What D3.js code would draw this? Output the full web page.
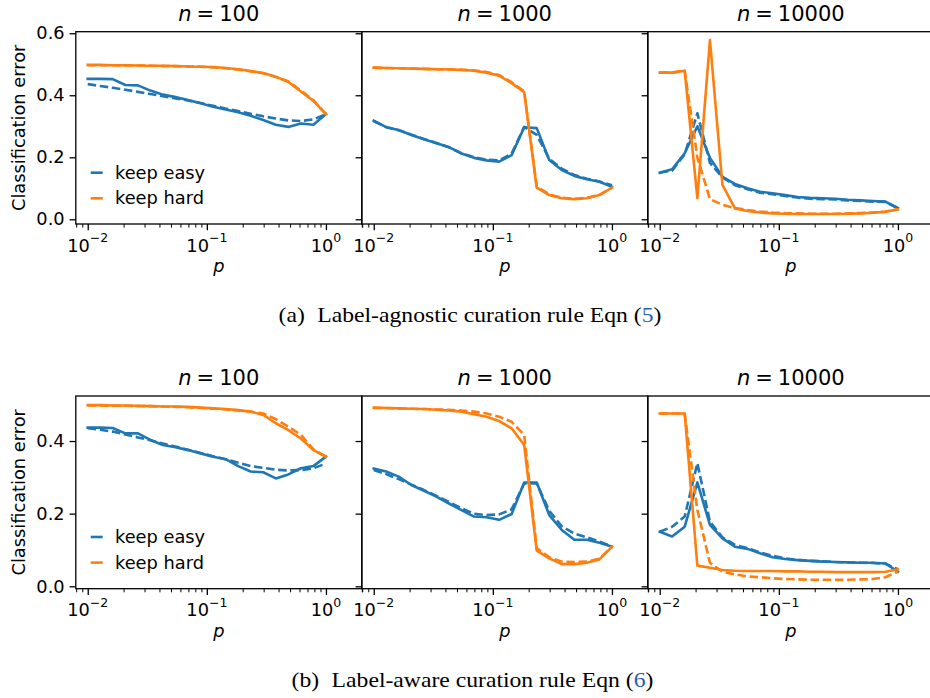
<!DOCTYPE html>
<html><head><meta charset="utf-8">
<script src="https://cdn.jsdelivr.net/npm/d3@7"></script>
<style>
body{margin:0;background:#fff}
svg{display:block}
text{font-family:"DejaVu Sans",sans-serif;fill:#000}
</style></head><body>
<svg id="chart" width="930" height="698"></svg>
<script>
// ---------- data ----------
const pValues = [0.01,0.0127,0.0162,0.0207,0.0264,0.0336,0.0428,0.0546,0.0695,0.0886,0.1129,0.1438,0.1833,0.2336,0.2976,0.3793,0.4833,0.6158,0.7848,1.0];
const nValues = [100, 1000, 10000];
const seriesNames = ["keep easy", "keep hard"];
const yTicksA = [0, 0.2, 0.4, 0.6];
const yTicksB = [0, 0.2, 0.4];
const xMajorTicks = [0.01, 0.1, 1];
const xMajorExp = ["\u22122", "\u22121", "0"];
const xMinorTicks = [0.008,0.009,0.02,0.03,0.04,0.05,0.06,0.07,0.08,0.09,0.2,0.3,0.4,0.5,0.6,0.7,0.8,0.9,2];
const captionA = ["(a)", "Label-agnostic curation rule Eqn (", "5", ")"];
const captionB = ["(b)", "Label-aware curation rule Eqn (", "6", ")"];

// (a) label-agnostic: solid / dashed
const aEasy100   = [0.453,0.453,0.452,0.433,0.432,0.415,0.402,0.394,0.385,0.374,0.363,0.354,0.345,0.334,0.320,0.305,0.298,0.309,0.305,0.339];
const aEasy100d  = [0.436,0.430,0.424,0.418,0.411,0.404,0.397,0.390,0.383,0.375,0.366,0.357,0.349,0.340,0.332,0.325,0.319,0.317,0.322,0.339];
const aHard100   = [0.498,0.498,0.497,0.497,0.496,0.495,0.495,0.494,0.493,0.492,0.491,0.488,0.484,0.478,0.472,0.460,0.443,0.412,0.382,0.339];
const aHard100d  = [0.497,0.497,0.497,0.496,0.496,0.495,0.494,0.494,0.493,0.492,0.490,0.487,0.483,0.477,0.471,0.459,0.445,0.415,0.384,0.339];
const aEasy1000  = [0.318,0.297,0.288,0.272,0.258,0.245,0.233,0.212,0.198,0.190,0.186,0.207,0.297,0.294,0.191,0.159,0.140,0.129,0.121,0.105];
const aEasy1000d = [0.316,0.298,0.287,0.273,0.259,0.246,0.232,0.213,0.200,0.192,0.190,0.212,0.298,0.272,0.195,0.163,0.143,0.131,0.122,0.110];
const aHard1000  = [0.489,0.488,0.487,0.486,0.485,0.484,0.483,0.482,0.479,0.473,0.463,0.439,0.410,0.102,0.078,0.068,0.065,0.068,0.078,0.102];
const aHard1000d = [0.489,0.488,0.487,0.486,0.485,0.484,0.484,0.482,0.480,0.475,0.465,0.442,0.413,0.106,0.080,0.070,0.066,0.069,0.079,0.102];
const aEasy10000  = [0.150,0.161,0.213,0.300,0.198,0.137,0.114,0.100,0.089,0.084,0.078,0.072,0.069,0.068,0.066,0.063,0.061,0.059,0.057,0.036];
const aEasy10000d = [0.151,0.157,0.210,0.342,0.182,0.135,0.110,0.097,0.086,0.081,0.075,0.070,0.066,0.065,0.064,0.061,0.059,0.057,0.056,0.036];
const aHard10000  = [0.473,0.473,0.479,0.068,0.578,0.111,0.035,0.027,0.022,0.019,0.018,0.017,0.017,0.017,0.017,0.018,0.019,0.021,0.024,0.032];
const aHard10000d = [0.473,0.473,0.479,0.200,0.065,0.047,0.036,0.030,0.025,0.022,0.020,0.019,0.018,0.018,0.018,0.019,0.020,0.022,0.025,0.032];

// (b) label-aware: solid / dashed
const bEasy100   = [0.437,0.437,0.436,0.421,0.421,0.403,0.389,0.383,0.375,0.366,0.357,0.350,0.331,0.316,0.314,0.297,0.308,0.325,0.331,0.357];
const bEasy100d  = [0.435,0.431,0.426,0.418,0.410,0.402,0.393,0.385,0.376,0.367,0.358,0.350,0.340,0.331,0.326,0.321,0.319,0.320,0.325,0.338];
const bHard100   = [0.499,0.499,0.498,0.498,0.497,0.496,0.495,0.495,0.494,0.492,0.490,0.488,0.485,0.481,0.472,0.449,0.430,0.407,0.375,0.357];
const bHard100d  = [0.498,0.498,0.497,0.497,0.496,0.496,0.495,0.494,0.493,0.491,0.489,0.487,0.484,0.481,0.476,0.460,0.440,0.417,0.377,0.357];
const bEasy1000  = [0.324,0.316,0.302,0.279,0.263,0.247,0.228,0.210,0.192,0.190,0.183,0.199,0.286,0.286,0.196,0.155,0.128,0.128,0.120,0.109];
const bEasy1000d = [0.320,0.309,0.295,0.280,0.265,0.249,0.232,0.215,0.200,0.196,0.198,0.212,0.283,0.283,0.208,0.165,0.145,0.135,0.123,0.110];
const bHard1000  = [0.492,0.491,0.490,0.489,0.488,0.486,0.484,0.481,0.474,0.467,0.455,0.435,0.389,0.098,0.077,0.061,0.061,0.065,0.074,0.109];
const bHard1000d = [0.491,0.491,0.490,0.489,0.488,0.487,0.486,0.484,0.481,0.476,0.467,0.453,0.417,0.105,0.080,0.068,0.067,0.068,0.076,0.109];
const bEasy10000  = [0.150,0.137,0.164,0.286,0.169,0.132,0.109,0.103,0.091,0.080,0.075,0.072,0.070,0.068,0.067,0.066,0.065,0.065,0.063,0.040];
const bEasy10000d = [0.150,0.164,0.192,0.339,0.178,0.135,0.114,0.105,0.093,0.084,0.077,0.073,0.070,0.069,0.067,0.066,0.065,0.064,0.062,0.047];
const bHard10000  = [0.476,0.476,0.476,0.057,0.051,0.045,0.043,0.042,0.042,0.042,0.041,0.041,0.040,0.040,0.039,0.039,0.039,0.039,0.040,0.047];
const bHard10000d = [0.476,0.476,0.476,0.210,0.065,0.040,0.033,0.027,0.025,0.022,0.020,0.019,0.018,0.018,0.018,0.018,0.019,0.020,0.025,0.040];

// ---------- drawing ----------
const svg = d3.select("#chart");
const COLORS = ["#1f77b4", "#ff7f0e"];
const FS = 17.8, TITLE_FS = 21;
const panelLefts = [75.8, 361.8, 647.8], panelW = 286;
const rows = [
  {top: 31.7, bottom: 224, yDomain: [-0.0152, 0.605], yTicks: yTicksA, caption: captionA, capY: 321.7, capX: 470, capW: 383,
   data: [[aEasy100, aEasy100d, aHard100, aHard100d], [aEasy1000, aEasy1000d, aHard1000, aHard1000d], [aEasy10000, aEasy10000d, aHard10000, aHard10000d]]},
  {top: 396, bottom: 588.7, yDomain: [-0.0066, 0.524], yTicks: yTicksB, caption: captionB, capY: 686.5, capX: 472.5, capW: 362,
   data: [[bEasy100, bEasy100d, bHard100, bHard100d], [bEasy1000, bEasy1000d, bHard1000, bHard1000d], [bEasy10000, bEasy10000d, bHard10000, bHard10000d]]}
];

rows.forEach((row) => {
  const y = d3.scaleLinear().domain(row.yDomain).range([row.bottom, row.top]);
  nValues.forEach((n, ci) => {
    const x0 = panelLefts[ci];
    const x = d3.scaleLog().domain([0.00794, 2.0]).range([x0, x0 + panelW]);
    const g = svg.append("g");

    // data lines
    const line = d3.line().x((d, i) => x(pValues[i])).y(d => y(d));
    const series = row.data[ci];
    const styles = [
      {c: COLORS[0], dash: null}, {c: COLORS[0], dash: "8.5,3.7"},
      {c: COLORS[1], dash: null}, {c: COLORS[1], dash: "8.5,3.7"}
    ];
    series.forEach((vals, si) => {
      g.append("path").datum(vals)
        .attr("d", line)
        .attr("fill", "none")
        .attr("stroke", styles[si].c)
        .attr("stroke-width", 2.6)
        .attr("stroke-linejoin", "round")
        .attr("stroke-linecap", styles[si].dash ? "butt" : "square")
        .attr("stroke-dasharray", styles[si].dash);
    });

    // x axis major
    const xAxis = g.append("g").attr("transform", `translate(0,${row.bottom})`)
      .call(d3.axisBottom(x).tickValues(xMajorTicks).tickSize(6.2).tickFormat(() => ""));
    xAxis.select(".domain").remove();
    xAxis.selectAll(".tick line").attr("stroke", "#000").attr("stroke-width", 1.3);
    // x axis minor
    const xMinor = g.append("g").attr("transform", `translate(0,${row.bottom})`)
      .call(d3.axisBottom(x).tickValues(xMinorTicks).tickSize(3.6).tickFormat(() => ""));
    xMinor.select(".domain").remove();
    xMinor.selectAll(".tick line").attr("stroke", "#000").attr("stroke-width", 1.0);

    // x tick labels 10^k
    xMajorTicks.forEach((t, k) => {
      const tx = g.append("text")
        .attr("x", x(t)).attr("y", row.bottom + 27.5)
        .attr("text-anchor", "middle")
        .attr("font-size", FS);
      tx.append("tspan").text("10");
      tx.append("tspan").attr("dy", -9.5).attr("font-size", FS * 0.7).text(xMajorExp[k]);
    });

    // y axis
    const yAxis = g.append("g").attr("transform", `translate(${x0},0)`)
      .call(d3.axisLeft(y).tickValues(row.yTicks).tickSize(6.2).tickPadding(5)
        .tickFormat(ci === 0 ? d3.format(".1f") : () => ""));
    yAxis.select(".domain").remove();
    yAxis.selectAll(".tick line").attr("stroke", "#000").attr("stroke-width", 1.3);
    yAxis.selectAll(".tick text").attr("font-size", FS).attr("font-family", "DejaVu Sans").attr("fill", "#000");

    // frame
    g.append("rect").attr("x", x0).attr("y", row.top)
      .attr("width", panelW).attr("height", row.bottom - row.top)
      .attr("fill", "none").attr("stroke", "#000").attr("stroke-width", 1.3);

    // title
    const tt = g.append("text").attr("x", x0 + panelW / 2).attr("y", row.top - 11)
      .attr("text-anchor", "middle").attr("font-size", TITLE_FS);
    tt.append("tspan").attr("font-style", "italic").text("n");
    tt.append("tspan").attr("dx", 5).text("=");
    tt.append("tspan").attr("dx", 5).text(String(n));

    // x label
    g.append("text").attr("x", x0 + panelW / 2).attr("y", row.bottom + 48)
      .attr("text-anchor", "middle").attr("font-size", FS).attr("font-style", "italic").text("p");

    if (ci === 0) {
      // y label
      g.append("text")
        .attr("transform", `translate(25,${(row.top + row.bottom) / 2}) rotate(-90)`)
        .attr("text-anchor", "middle").attr("font-size", FS).text("Classification error");
      // legend
      seriesNames.forEach((name, li) => {
        const ly = row.top + 141 + li * 25.6;
        g.append("line").attr("x1", 90.7).attr("x2", 102.7).attr("y1", ly).attr("y2", ly)
          .attr("stroke", COLORS[li]).attr("stroke-width", 2.6);
        g.append("text").attr("x", 115).attr("y", ly + 6).attr("font-size", FS).text(name);
      });
    }
  });

  // caption
  const cg = svg.append("g").attr("transform", `translate(${row.capX},${row.capY})`);
  const ct = cg.append("text").attr("text-anchor", "middle")
    .attr("font-size", 21)
    .style("font-family", "'Liberation Serif', 'Times New Roman', serif");
  ct.append("tspan").text(row.caption[0]);
  ct.append("tspan").attr("dx", 11).text(row.caption[1]);
  ct.append("tspan").style("fill", "#2a5db0").text(row.caption[2]);
  ct.append("tspan").text(row.caption[3]);
  const bb = ct.node().getBBox();
  const sx = row.capW / bb.width;
  cg.attr("transform", `translate(${row.capX},${row.capY}) scale(${sx},1)`);
});
</script>
</body></html>
